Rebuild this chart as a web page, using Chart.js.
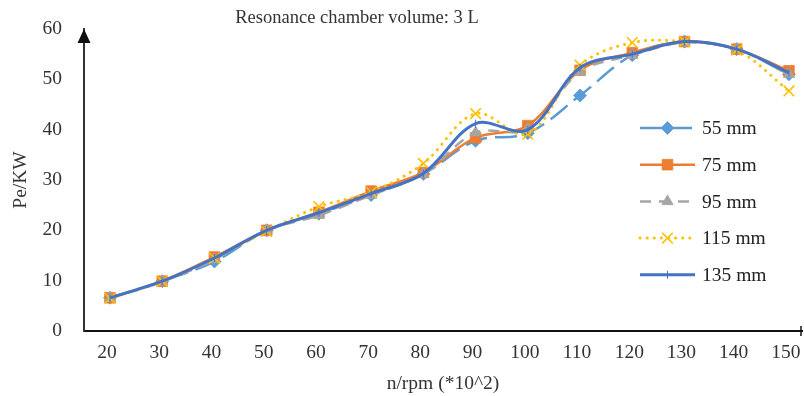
<!DOCTYPE html>
<html>
<head>
<meta charset="utf-8">
<script src="https://cdn.jsdelivr.net/npm/chart.js@4.4.0/dist/chart.umd.min.js"></script>
<style>
  html, body { margin: 0; padding: 0; background: #fff; }
  #wrap { width: 804px; height: 396px; }
</style>
</head>
<body>
<div id="wrap"><canvas id="grafico" width="804" height="396"></canvas></div>
<script>
// rotacao (x 10^2 rpm)
const rotacoes = [20, 30, 40, 50, 60, 70, 80, 90, 100, 110, 120, 130, 140, 150];

// potencia efetiva (kW) por comprimento
const pe55  = [6.6, 9.9, 13.8, 20.0, 23.3, 27.0, 31.2, 37.8, 39.3, 46.8, 54.8, 57.5, 56.0, 51.0];
const pe75  = [6.6, 9.9, 14.7, 20.0, 23.6, 27.8, 31.5, 38.4, 40.8, 51.8, 55.3, 57.5, 56.0, 51.7];
const pe95  = [6.5, 9.8, 14.2, 20.0, 23.0, 27.0, 31.2, 39.4, 40.1, 51.5, 54.8, 57.3, 56.0, 51.0];
const pe115 = [6.5, 9.9, 14.5, 19.8, 24.7, 27.6, 33.3, 43.2, 39.1, 52.8, 57.3, 57.5, 55.8, 47.7];
const pe135 = [6.6, 9.9, 14.5, 20.0, 23.5, 27.3, 31.3, 41.2, 40.0, 52.3, 55.0, 57.5, 56.0, 51.3];

const nomes = ["55 mm", "75 mm", "95 mm", "115 mm", "135 mm"];
const yTicks = [0, 10, 20, 30, 40, 50, 60];

const serif = "'Liberation Serif', 'Times New Roman', serif";

function pares(valores) {
  return valores.map((v, i) => ({ x: rotacoes[i], y: v }));
}

const estilos = [
  { cor: "#5B9BD5", dash: [22, 8], largura: 2.5, ponto: "rectRot", raio: 6.5 },
  { cor: "#ED7D31", dash: [], largura: 2.5, ponto: "rect", raio: 7.5 },
  { cor: "#A5A5A5", dash: [11, 8], largura: 2.5, ponto: "triangle", raio: 6.5 },
  { cor: "#FFC000", dash: [0.1, 7], largura: 3, ponto: "crossRot", raio: 7.5 },
  { cor: "#4472C4", dash: [], largura: 3, ponto: "line", raio: 4 }
];

const series = [pe55, pe75, pe95, pe115, pe135];

const datasets = series.map((s, i) => {
  const e = estilos[i];
  return {
    label: nomes[i],
    data: pares(s),
    borderColor: e.cor,
    backgroundColor: e.cor,
    borderWidth: e.largura,
    borderDash: e.dash,
    borderCapStyle: e.dash.length && e.dash[0] < 1 ? "round" : "butt",
    tension: 0.35,
    pointStyle: e.ponto,
    pointRadius: e.raio,
    pointRotation: e.ponto === "line" ? 90 : 0,
    pointBorderWidth: e.ponto === "crossRot" ? 1.6 : (e.ponto === "line" ? 1 : 0.8),
    pointBorderColor: e.cor,
    pointBackgroundColor: e.cor,
    order: 5 - i,
    clip: false
  };
});

// legenda, titulo e seta desenhados a mao
const extras = {
  id: "extras",
  afterDraw(chart) {
    const ctx = chart.ctx;
    const area = chart.chartArea;
    ctx.save();

    // titulo
    ctx.fillStyle = "#333";
    ctx.font = "18.5px " + serif;
    ctx.textAlign = "center";
    ctx.textBaseline = "middle";
    ctx.fillText("Resonance chamber volume: 3 L", 357, 18);

    // seta do eixo y
    const ax = area.left;
    ctx.fillStyle = "#111";
    ctx.beginPath();
    ctx.moveTo(ax, area.top);
    ctx.lineTo(ax - 6.5, area.top + 14);
    ctx.lineTo(ax + 6.5, area.top + 14);
    ctx.closePath();
    ctx.fill();

    // marca no fim do eixo x
    ctx.strokeStyle = "#111";
    ctx.lineWidth = 1.5;
    ctx.beginPath();
    ctx.moveTo(area.right - 1, area.bottom - 5);
    ctx.lineTo(area.right - 1, area.bottom + 5);
    ctx.stroke();

    // legenda
    const x0 = 640, x1 = 695;
    chart.data.datasets.forEach((ds, i) => {
      const y = 128 + i * 36.7;
      ctx.strokeStyle = ds.borderColor;
      ctx.lineWidth = ds.borderWidth;
      ctx.lineCap = ds.borderCapStyle;
      ctx.setLineDash(ds.borderDash);
      ctx.beginPath();
      ctx.moveTo(x0, y);
      ctx.lineTo(x1, y);
      ctx.stroke();
      ctx.setLineDash([]);
      ctx.lineCap = "butt";
      ctx.fillStyle = ds.pointBackgroundColor;
      ctx.strokeStyle = ds.pointBorderColor;
      ctx.lineWidth = ds.pointBorderWidth;
      Chart.helpers.drawPoint(ctx, {
        pointStyle: ds.pointStyle,
        rotation: ds.pointRotation,
        radius: ds.pointRadius,
        borderWidth: ds.pointBorderWidth
      }, (x0 + x1) / 2, y);
      ctx.fillStyle = "#222";
      ctx.font = "19.5px " + serif;
      ctx.textAlign = "left";
      ctx.textBaseline = "middle";
      ctx.fillText(ds.label, 702, y + 1);
    });
    ctx.restore();
  }
};

new Chart(document.getElementById("grafico").getContext("2d"), {
  type: "line",
  data: { datasets },
  options: {
    responsive: false,
    animation: false,
    layout: { autoPadding: false, padding: { top: 29, right: 2, left: 0, bottom: 0 } },
    plugins: {
      legend: { display: false },
      tooltip: { enabled: false }
    },
    scales: {
      x: {
        type: "linear",
        min: 15.02,
        max: 152.5,
        afterBuildTicks: s => { s.ticks = rotacoes.map(v => ({ value: v })); },
        afterFit: s => { s.height = 65; s.paddingLeft = 0; s.paddingRight = 0; },
        grid: { display: false, drawTicks: false },
        border: { display: true, color: "#111", width: 2 },
        ticks: { color: "#333", font: { family: serif, size: 19.5 }, padding: 10, labelOffset: -3, maxRotation: 0, autoSkip: false },
        title: { display: true, text: "n/rpm (*10^2)", color: "#333", font: { family: serif, size: 19.5 }, padding: { top: 2, bottom: 0 } }
      },
      y: {
        min: 0,
        max: 60,
        afterBuildTicks: s => { s.ticks = yTicks.map(v => ({ value: v })); },
        afterFit: s => { s.width = 84; s.paddingTop = 0; s.paddingBottom = 0; },
        grid: { display: false, drawTicks: false },
        border: { display: true, color: "#333", width: 2 },
        ticks: { color: "#333", font: { family: serif, size: 19.5 }, padding: 22 },
        title: { display: true, text: "Pe/KW", color: "#333", font: { family: serif, size: 19.5 }, padding: { top: 9, bottom: 0 } }
      }
    }
  },
  plugins: [extras]
});
</script>
</body>
</html>
